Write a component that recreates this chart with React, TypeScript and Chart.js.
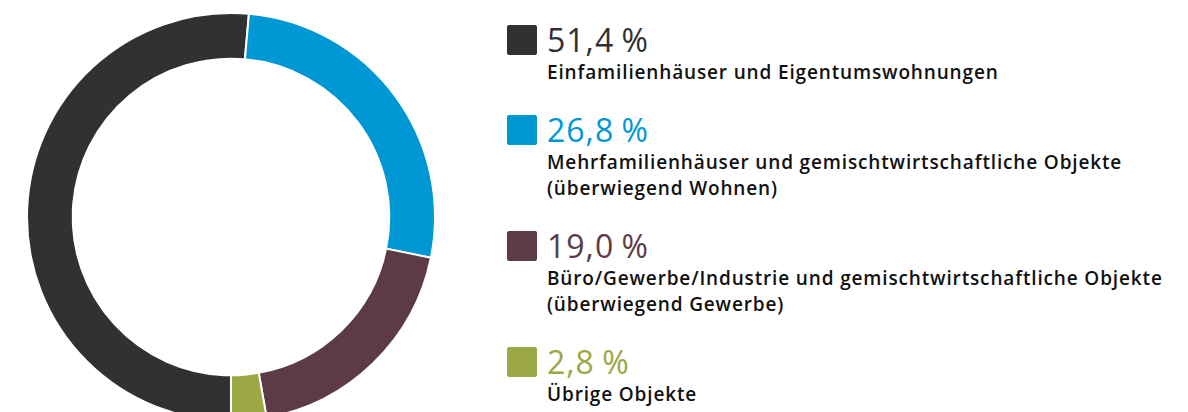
import React, { useEffect, useRef } from "react";
import { Chart, registerables } from "chart.js";

Chart.register(...registerables);

const categories = [
  "Einfamilienhäuser und Eigentumswohnungen",
  "Mehrfamilienhäuser und gemischtwirtschaftliche Objekte\n(überwiegend Wohnen)",
  "Büro/Gewerbe/Industrie und gemischtwirtschaftliche Objekte\n(überwiegend Gewerbe)",
  "Übrige Objekte",
];
const shares = [51.4, 26.8, 19.0, 2.8];
const shareLabels = ["51,4 %", "26,8 %", "19,0 %", "2,8 %"];
const colors = ["#303133", "#0097d5", "#5c3b46", "#9ba843"];

const FONT = "'Open Sans', sans-serif";

export default function App() {
  const canvasRef = useRef<HTMLCanvasElement | null>(null);

  useEffect(() => {
    if (!canvasRef.current) return;
    const chart = new Chart(canvasRef.current, {
      type: "doughnut",
      data: {
        labels: categories,
        datasets: [
          {
            data: shares,
            backgroundColor: colors,
            borderColor: "#ffffff",
            borderWidth: 2,
            hoverOffset: 0,
          },
        ],
      },
      options: {
        animation: false,
        responsive: true,
        maintainAspectRatio: false,
        rotation: 180,
        radius: 204,
        cutout: "77.6%",
        layout: { padding: 0 },
        plugins: {
          legend: { display: false },
          tooltip: { enabled: false },
        },
      },
    });
    return () => chart.destroy();
  }, []);

  return (
    <div
      style={{
        position: "fixed",
        left: 0,
        top: 0,
        width: 1188,
        height: 412,
        overflow: "hidden",
        background: "#ffffff",
        fontFamily: FONT,
      }}
    >
      <div style={{ position: "absolute", left: 0, top: 0, width: 462, height: 434 }}>
        <canvas ref={canvasRef} />
      </div>
      <div style={{ position: "absolute", left: 507, top: 25 }}>
        {categories.map((cat, i) => (
          <div key={i} style={{ marginBottom: 30 }}>
            <div style={{ display: "flex", alignItems: "center", height: 30 }}>
              <div
                style={{
                  width: 30,
                  height: 30,
                  borderRadius: 2,
                  background: colors[i],
                  marginRight: 10,
                }}
              />
              <div
                style={{
                  fontSize: 32,
                  lineHeight: "30px",
                  color: colors[i],
                  fontWeight: 400,
                  letterSpacing: 1,
                  wordSpacing: -2,
                  whiteSpace: "nowrap",
                }}
              >
                {shareLabels[i]}
              </div>
            </div>
            <div
              style={{
                marginTop: 4,
                marginLeft: 40,
                fontSize: 19,
                lineHeight: "26px",
                fontWeight: 600,
                letterSpacing: 0.85,
                color: "#111111",
                whiteSpace: "pre",
              }}
            >
              {cat}
            </div>
          </div>
        ))}
      </div>
    </div>
  );
}
